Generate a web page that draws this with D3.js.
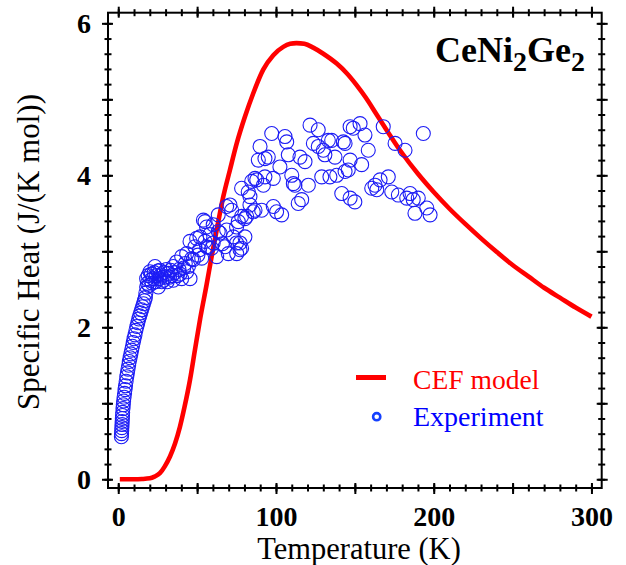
<!DOCTYPE html>
<html><head><meta charset="utf-8">
<script src="https://cdn.jsdelivr.net/npm/d3@7/dist/d3.min.js"></script>
<style>
body{margin:0;background:#fff}
svg{display:block}
</style>
</head><body>
<svg id="chart" width="626" height="565"></svg>
<script>
// ---- data ----
const cefT = [1, 5, 10, 15, 20, 23, 26.4, 29.5, 32.8, 36, 39.1, 42, 45.5, 48.6, 52, 56, 59.2, 62.4, 66.6, 70.8, 75.1, 80.3, 85.6, 91.9, 98.3, 104.6, 109, 113, 118, 123.6, 130, 138.5, 145, 151, 157, 163.8, 170, 180, 190, 200, 210, 220, 230, 240, 250, 260, 270, 280, 290, 300];
const cefC = [0, 0, 0, 0.003, 0.012, 0.035, 0.08, 0.17, 0.30, 0.47, 0.69, 0.95, 1.31, 1.70, 2.12, 2.56, 2.93, 3.28, 3.72, 4.07, 4.42, 4.77, 5.08, 5.39, 5.58, 5.69, 5.73, 5.74, 5.73, 5.68, 5.60, 5.47, 5.34, 5.19, 5.02, 4.80, 4.60, 4.29, 4.02, 3.78, 3.56, 3.36, 3.17, 2.99, 2.82, 2.67, 2.52, 2.39, 2.26, 2.14];

const expT = [
 2.0,2.1,2.2,2.3,2.4,2.5,2.6,2.7,2.8,3.0,3.2,3.4,3.7,4.0,4.3,4.6,5.0,5.4,5.8,6.2,6.6,7.0,7.5,8.0,8.5,9.0,9.5,10.0,10.6,11.2,11.8,12.4,13.0,13.6,14.2,14.8,15.4,16.0,16.6,17.2,
 17.5,18.0,18.0,18.5,19.0,19.5,20.1,20.5,21.0,21.5,22.2,22.8,23.3,23.8,24.3,25.0,25.4,26.0,26.4,27.0,27.6,28.5,29.0,29.8,30.5,31.0,31.7,32.5,33.2,34.0,34.9,34.9,36.0,37.0,37.5,38.5,39.2,40.2,40.2,41.5,42.5,43.4,43.4,44.5,45.5,45.5,
 46.5,47.6,48.6,49.7,50.5,51.5,51.8,52.9,54,55,55,56,56,57,58,59.2,60.2,60.2,62.4,63.4,63.4,64.5,66,67.7,68.7,68.7,69.8,70.8,71.9,72.9,75,75,75.1,76.1,77.2,77.2,78.2,78.2,78.2,80.3,80.3,81.4,82.4,83.5,83.5,84.6,85.6,
 86.7,86.7,87.8,88.8,89.9,90.9,92,93,93,95.1,97.3,98.3,98.3,100.4,102.5,103.6,105.7,106.8,107.8,110,111,112,114.1,115.2,116.3,118.4,120.5,121.6,123.7,
 126.8,126.8,129,130,131,133.2,134.2,135.3,137.4,138.5,141.7,142.7,143.8,143.8,145.8,147,147,147,149,150,153.3,154.3,156.4,158.5,160.7,162.8,163.9,166,168,171.2,173.4,175.5,177.6,181.8,182.9,185,187,188.1,190.2,193.4,195.6,197.7
];
const expC = [
 0.56,0.60,0.64,0.68,0.72,0.76,0.80,0.84,0.88,0.93,0.98,1.03,1.08,1.13,1.18,1.23,1.29,1.35,1.40,1.45,1.50,1.55,1.60,1.65,1.70,1.75,1.80,1.85,1.90,1.96,2.01,2.06,2.11,2.15,2.19,2.23,2.27,2.31,2.35,2.39,
 2.45,2.53,2.64,2.58,2.68,2.55,2.73,2.62,2.70,2.58,2.64,2.72,2.80,2.60,2.68,2.74,2.53,2.64,2.75,2.69,2.60,2.62,2.72,2.66,2.76,2.60,2.71,2.66,2.75,2.68,2.80,2.62,2.72,2.86,2.68,2.76,2.70,2.93,2.64,2.78,2.84,2.97,2.73,2.80,2.64,3.13,
 2.90,2.89,3.06,3.17,2.95,3.02,3.19,2.91,3.41,3.13,3.39,3.32,3.06,3.05,3.22,3.04,3.35,3.11,2.93,3.48,3.26,3.24,3.10,3.06,3.59,3.28,2.97,3.61,3.54,3.19,3.11,3.32,2.97,3.39,3.11,3.02,3.04,3.83,3.46,3.19,3.43,3.46,3.78,3.61,3.72,3.92,3.52,
 3.54,3.96,3.94,4.20,4.38,3.54,3.87,3.98,4.22,4.24,4.55,3.96,3.59,3.52,4.11,3.48,4.51,4.44,4.27,4.00,3.89,3.87,3.63,4.24,3.68,4.18,3.87,4.66,4.42,
 4.60,4.38,3.98,4.33,4.27,4.46,3.98,4.46,4.24,4.00,3.76,4.44,4.05,4.42,4.07,4.64,4.20,3.70,4.62,3.65,4.68,4.14,4.53,4.33,3.83,3.87,3.81,3.94,4.64,3.98,3.78,4.42,3.74,4.33,3.70,3.76,3.68,3.50,3.70,4.55,3.57,3.48
];

const seriesNames = ["CEF model", "Experiment"];
const xTickLabels = [0, 100, 200, 300];
const yTickLabels = [0, 2, 4, 6];
const xLabel = "Temperature (K)";
const yLabel = "Specific Heat (J/(K mol))";

const FONT = '"Liberation Serif", Tinos, "Times New Roman", serif';

// ---- layout ----
const svg = d3.select("#chart").attr("font-family", FONT);
const L = 108, R = 601.7, T = 12.7, B = 488;
const x = d3.scaleLinear().domain([-6.5, 306.5]).range([L, R]);
const y = d3.scaleLinear().domain([-0.115, 6.14]).range([B, T]);

svg.append("rect").attr("width", 626).attr("height", 565).attr("fill", "#fff");

const xMajor = d3.range(0, 301, 50), xMinor = d3.range(0, 301, 10);
const yMajor = d3.range(0, 6.01, 1), yMinor = d3.range(0, 30.01, 1).map(d => d / 5);

function drawAxis(axisFn, scale, pos, values, side, out, inn, labels) {
  const g = svg.append("g")
    .attr("transform", side === "bottom" || side === "top" ? `translate(0,${pos})` : `translate(${pos},0)`)
    .call(axisFn(scale).tickValues(values).tickSize(0)
      .tickFormat(d => labels && labels.includes(+d.toFixed(6)) ? d3.format("d")(d) : ""));
  g.attr("font-family", FONT);
  g.select(".domain").remove();
  g.selectAll(".tick line").attr("stroke", "#000").attr("stroke-width", 2);
  if (side === "bottom") g.selectAll(".tick line").attr("y1", -inn).attr("y2", out);
  if (side === "top") g.selectAll(".tick line").attr("y1", -out).attr("y2", inn);
  if (side === "left") g.selectAll(".tick line").attr("x1", -out).attr("x2", inn);
  if (side === "right") g.selectAll(".tick line").attr("x1", -inn).attr("x2", out);
  g.selectAll(".tick text").attr("fill", "#000")
    .style("font-family", FONT)
    .style("font-weight", "bold").style("font-size", "28px");
  if (side === "bottom") g.selectAll(".tick text").attr("y", 38).attr("dy", 0);
  if (side === "left") g.selectAll(".tick text").attr("x", -17).attr("dy", "0.34em").attr("text-anchor", "end");
  return g;
}

// minor ticks
drawAxis(d3.axisBottom, x, B, xMinor, "bottom", 3.5, 3.5, null);
drawAxis(d3.axisTop, x, T, xMinor, "top", 3.5, 3.5, null);
drawAxis(d3.axisLeft, y, L, yMinor, "left", 3.5, 3.5, null);
drawAxis(d3.axisRight, y, R, yMinor, "right", 3.5, 3.5, null);
// major ticks
drawAxis(d3.axisBottom, x, B, xMajor, "bottom", 6, 5, xTickLabels);
drawAxis(d3.axisTop, x, T, xMajor, "top", 6, 5, null);
drawAxis(d3.axisLeft, y, L, yMajor, "left", 6, 5, yTickLabels);
drawAxis(d3.axisRight, y, R, yMajor, "right", 6, 5, null);

// frame
svg.append("rect").attr("x", L).attr("y", T).attr("width", R - L).attr("height", B - T)
  .attr("fill", "none").attr("stroke", "#000").attr("stroke-width", 2);

// CEF model curve
const cef = cefT.map((t, i) => [t, cefC[i]]);
svg.append("path").datum(cef)
  .attr("fill", "none").attr("stroke", "#ff0000").attr("stroke-width", 4.6)
  .attr("stroke-linejoin", "round").attr("stroke-linecap", "butt")
  .attr("d", d3.line().x(d => x(d[0])).y(d => y(d[1])).curve(d3.curveMonotoneX));

// Experiment
const exp = expT.map((t, i) => [t, expC[i]]);
svg.append("g").selectAll("circle").data(exp).join("circle")
  .attr("cx", d => x(d[0])).attr("cy", d => y(d[1])).attr("r", 7)
  .attr("fill", "none").attr("stroke", "#1c1cf5").attr("stroke-width", 1.1);

// axis titles
svg.append("text").attr("x", 359).attr("y", 558.5).attr("text-anchor", "middle")
  .style("font-family", FONT).style("font-size", "30.5px").attr("fill", "#000").text(xLabel);
svg.append("text").attr("transform", "translate(39,252) rotate(-90)").attr("text-anchor", "middle")
  .style("font-family", FONT).style("font-size", "31px").attr("fill", "#000").text(yLabel);

// compound label
const title = svg.append("text").attr("x", 435).attr("y", 62)
  .style("font-family", FONT).style("font-size", "36px").style("font-weight", "bold").attr("fill", "#000");
title.append("tspan").text("CeNi");
title.append("tspan").attr("dy", 9).style("font-size", "28px").text("2");
title.append("tspan").attr("dy", -9).text("Ge");
title.append("tspan").attr("dy", 9).style("font-size", "28px").text("2");

// legend
svg.append("line").attr("x1", 356).attr("x2", 386).attr("y1", 377.5).attr("y2", 377.5)
  .attr("stroke", "#ff0000").attr("stroke-width", 5);
svg.append("text").attr("x", 413).attr("y", 388.5).style("font-family", FONT).style("font-size", "27.6px").attr("fill", "#ff0000").text(seriesNames[0]);
svg.append("circle").attr("cx", 376.7).attr("cy", 416.7).attr("r", 3.6)
  .attr("fill", "none").attr("stroke", "#1440ff").attr("stroke-width", 2.6);
svg.append("text").attr("x", 413).attr("y", 426).style("font-family", FONT).style("font-size", "28px").attr("fill", "#0000ff").text(seriesNames[1]);
</script>
</body></html>
